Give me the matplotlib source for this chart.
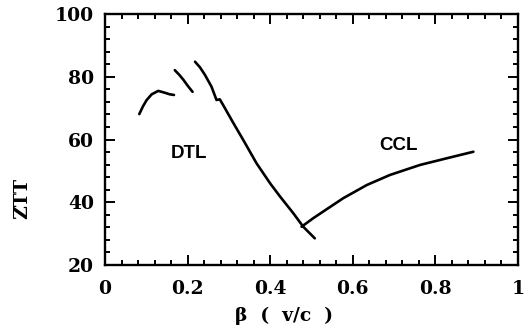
import matplotlib
matplotlib.use("Agg")
import matplotlib.pyplot as plt
from matplotlib.ticker import MultipleLocator

# DTL segment 1
b1 = [0.083, 0.092, 0.101, 0.113, 0.129, 0.145, 0.157, 0.167]
z1 = [68.1, 70.6, 72.6, 74.4, 75.5, 74.9, 74.4, 74.2]
# DTL segment 2
b2 = [0.169, 0.180, 0.190, 0.201, 0.212]
z2 = [82.1, 80.6, 79.0, 77.0, 75.2]
# DTL segment 3 (continues down past crossover)
b3 = [0.218, 0.230, 0.242, 0.258, 0.270, 0.278, 0.286, 0.311, 0.335,
      0.367, 0.400, 0.424, 0.456, 0.480, 0.508]
z3 = [84.8, 83.0, 80.6, 76.8, 72.6, 72.8, 71.0, 65.2, 59.8,
      52.4, 46.0, 41.8, 36.5, 32.2, 28.5]
# CCL
b4 = [0.476, 0.504, 0.537, 0.577, 0.634, 0.690, 0.763, 0.827, 0.892]
z4 = [32.2, 34.9, 37.8, 41.3, 45.5, 48.7, 51.9, 54.0, 56.1]

xticks = [0, 0.2, 0.4, 0.6, 0.8, 1]
xticklabels = ["0", "0.2", "0.4", "0.6", "0.8", "1"]
yticks = [20, 40, 60, 80, 100]

fig = plt.figure(figsize=(5.24, 3.29), dpi=100)
ax = fig.add_axes([0.2004, 0.1945, 0.7881, 0.7629])

for b, z in [(b1, z1), (b2, z2), (b3, z3), (b4, z4)]:
    ax.plot(b, z, color="black", lw=1.9, solid_capstyle="round",
            solid_joinstyle="round")

ax.set_xlim(0, 1)
ax.set_ylim(20, 100)
ax.set_xticks(xticks)
ax.set_xticklabels(xticklabels)
ax.set_yticks(yticks)
ax.xaxis.set_minor_locator(MultipleLocator(0.04))
ax.yaxis.set_minor_locator(MultipleLocator(4))
ax.tick_params(which="both", direction="in", top=True, right=True, width=1.4)
ax.tick_params(which="major", length=7)
ax.tick_params(which="minor", length=3.5)
ax.tick_params(axis="x", which="major", pad=11)
ax.tick_params(axis="y", which="major", pad=8)
for s in ax.spines.values():
    s.set_linewidth(1.7)

tfont = dict(family="DejaVu Serif", weight="bold", size=13.5)
for lab in ax.get_xticklabels() + ax.get_yticklabels():
    lab.set_fontfamily("DejaVu Serif")
    lab.set_fontweight("bold")
    lab.set_fontsize(13.5)

ax.text(0.203, 55.5, "DTL", ha="center", va="center", fontsize=13.5,
        fontweight="bold", family="Liberation Sans")
ax.text(0.710, 58.2, "CCL", ha="center", va="center", fontsize=13.5,
        fontweight="bold", family="Liberation Sans")

fig.text(284 / 524, 1 - 316 / 329, "β  (  v/c  )", ha="center", va="center", **tfont)
fig.text(22 / 524, 1 - 198 / 329, "ZTT", ha="center", va="center", rotation=90, **tfont)

fig.savefig("out.png", dpi=100)
